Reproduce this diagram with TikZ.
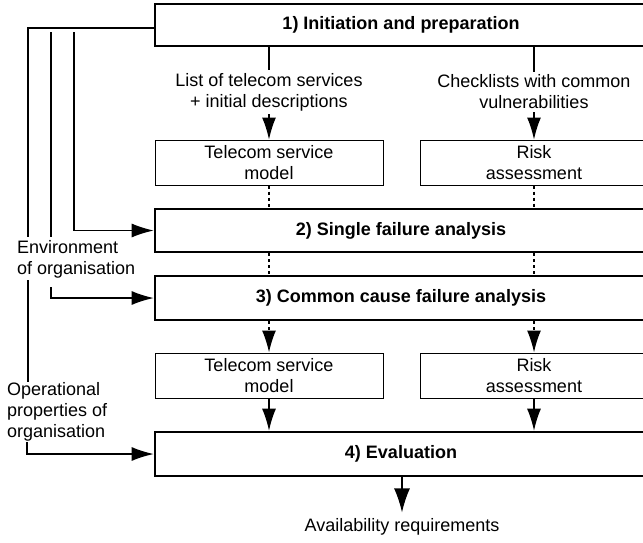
\documentclass[tikz,border=0pt]{standalone}
\usepackage{fontspec}
\setmainfont{Liberation Sans}
\usetikzlibrary{arrows.meta}
\begin{document}
\begin{tikzpicture}[x=1pt,y=-1pt,
  font=\fontsize{18}{21}\selectfont,
  bigbox/.style={draw, line width=2.6pt, minimum width=492pt, inner sep=0pt, font=\fontsize{18}{21}\selectfont\bfseries},
  smallbox/.style={draw, line width=1pt, minimum width=228pt, minimum height=45pt, inner sep=0pt, align=center},
  conn/.style={line width=1.3pt},
  arr/.style={-{Latex[length=22pt,width=14pt]}},
  dotline/.style={line width=1.5pt, dash pattern=on 3pt off 3pt},
  lbl/.style={inner sep=3pt, align=center}]
\useasboundingbox (0,0) rectangle (643,542);
% main boxes
\node[bigbox, minimum height=42pt] (b1) at (401,25) {1) Initiation and preparation};
\node[bigbox, minimum height=43pt] (b2) at (401,230.5) {2) Single failure analysis};
\node[bigbox, minimum height=44pt] (b3) at (401,298) {3) Common cause failure analysis};
\node[bigbox, minimum height=44pt] (b4) at (401,454) {4) Evaluation};
% small boxes
\node[smallbox] (s1) at (269,162.5) {Telecom service\\model};
\node[smallbox] (r1) at (534,162.5) {Risk\\assessment};
\node[smallbox] (s2) at (269,375.5) {Telecom service\\model};
\node[smallbox] (r2) at (534,375.5) {Risk\\assessment};
% labels
\node[lbl] (t1) at (269,92) {List of telecom services\\+ initial descriptions};
\node[lbl] (t2) at (534,92) {Checklists with common\\vulnerabilities};
\node[inner sep=1pt] (av) at (402,527) {Availability requirements};
\node[inner sep=0pt, align=left, anchor=west] (env) at (17,259) {Environment\\of organisation};
\node[inner sep=0pt, align=left, anchor=west] (op) at (7,412) {Operational\\properties of\\organisation};
% top connectors
\draw[conn] (s1.north |- b1.south) -- (t1.north);
\draw[conn, arr] (t1.south) -- (s1.north);
\draw[conn] (r1.north |- b1.south) -- (t2.north);
\draw[conn, arr] (t2.south) -- (r1.north);
% dotted links
\draw[dotline] (s1.south) -- (s1.south |- b2.north);
\draw[dotline] (r1.south) -- (r1.south |- b2.north);
\draw[dotline] (s1.south |- b2.south) -- (s1.south |- b3.north);
\draw[dotline] (r1.south |- b2.south) -- (r1.south |- b3.north);
\draw[dotline, arr] (s2.north |- b3.south) -- (s2.north);
\draw[dotline, arr] (r2.north |- b3.south) -- (r2.north);
% bottom links
\draw[conn, arr] (s2.south) -- (s2.south |- b4.north);
\draw[conn, arr] (r2.south) -- (r2.south |- b4.north);
\draw[conn, -{Latex[length=24pt,width=16pt]}, shorten >=5pt] (av.north |- b4.south) -- (av.north);
% environment lines
\coordinate (e1) at (155,28);
\coordinate (ea) at (28,237);
\coordinate (eb) at (51,32);
\coordinate (ec) at (51,237);
\coordinate (ed) at (74,32);
\coordinate (ee) at (51,287);
\coordinate (ef) at (28,280);
\coordinate (eg) at (28,382);
\coordinate (eh) at (27,442);
\draw[conn] (e1) -- (e1 -| ea) -- (ea);
\draw[conn] (eb) -- (ec);
\draw[conn, arr] (ed) -- (ed |- b2.west) -- (b2.west);
\draw[conn, arr] (ee) -- (ee |- b3.west) -- (b3.west);
\draw[conn] (ef) -- (eg);
\draw[conn, arr] (eh) -- (eh |- b4.west) -- (b4.west);
\end{tikzpicture}
\end{document}
